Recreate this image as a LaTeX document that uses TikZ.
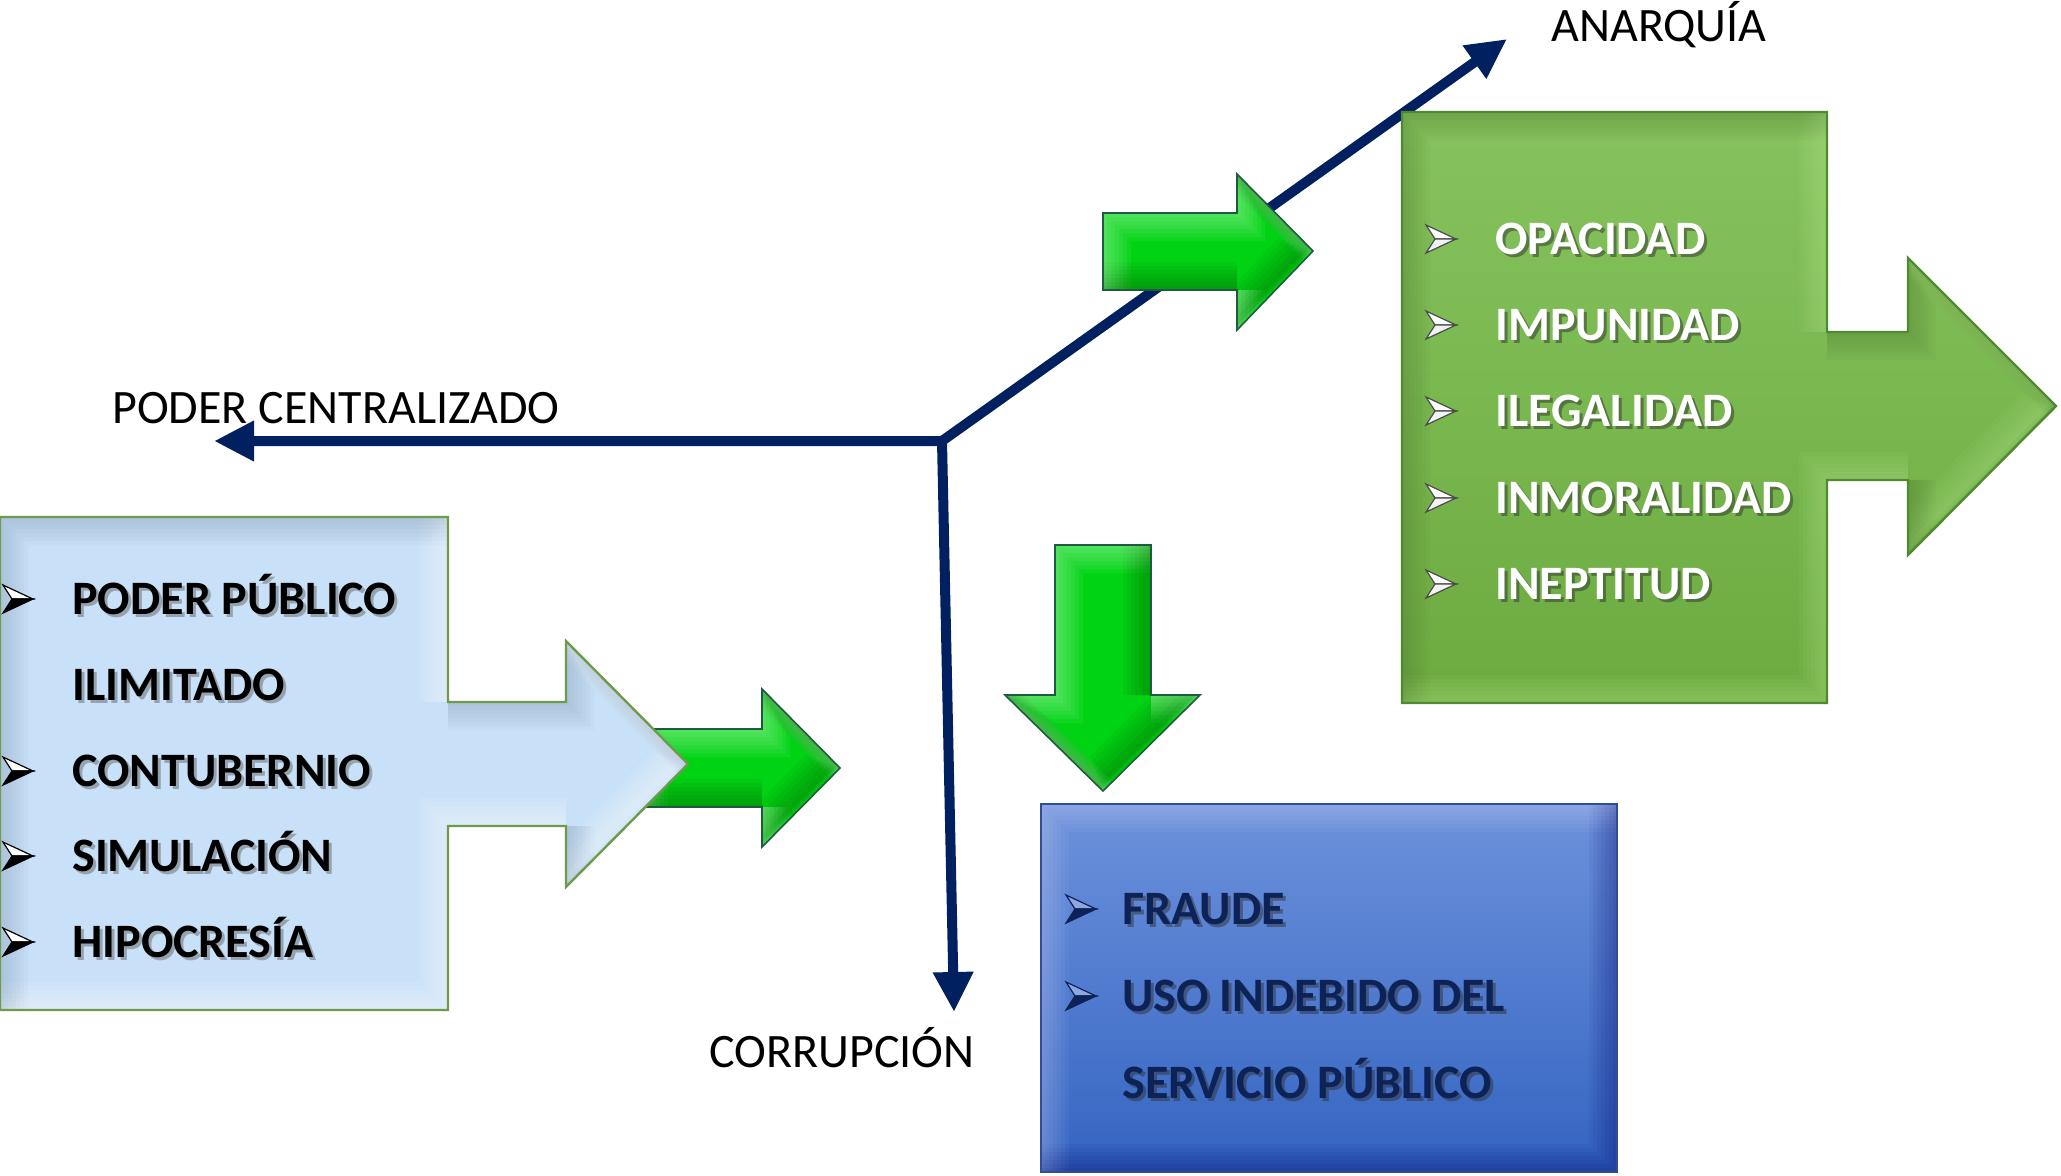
\documentclass[tikz,border=0pt]{standalone}
\usepackage{fontspec}
\setmainfont{Carlito}
\usetikzlibrary{arrows.meta,calc}
\definecolor{navyax}{HTML}{002060}
\definecolor{lblue}{HTML}{C8E1F8}
\definecolor{lbluedark}{HTML}{8FA6BE}
\definecolor{lblueedge}{HTML}{6E9A4C}
\definecolor{gbtop}{HTML}{86C35E}
\definecolor{gbbot}{HTML}{6CAB40}
\definecolor{gbedge}{HTML}{4E8A2E}
\definecolor{gbdark}{HTML}{4F7A33}
\definecolor{gblight}{HTML}{B8EC92}
\definecolor{brgreen}{HTML}{00D314}
\definecolor{brgedge}{HTML}{1E5A40}
\definecolor{dbtop}{HTML}{6D92DC}
\definecolor{dbbot}{HTML}{3464C1}
\definecolor{dbedge}{HTML}{2F4F94}
\definecolor{dbtext}{HTML}{0D2257}
\definecolor{dbbul}{HTML}{8DA8E0}

\tikzset{
 axis/.style={draw=navyax, line width=5pt, line join=miter},
 axtip/.style={-{Triangle[length=20pt,width=19pt]}},
 lab/.style={font=\fontsize{24}{28}\selectfont, inner sep=0pt, anchor=base west, text=black},
 itm/.style={font=\bfseries\fontsize{24}{28}\selectfont, inner sep=0pt, anchor=base west},
}

\def\pLB{(0,517) -- (448,517) -- (448,702) -- (566,702) -- (566,641) -- (688,764) -- (566,887) -- (566,826) -- (448,826) -- (448,1010) -- (0,1010) -- cycle}
\def\pGS{(640,729) -- (762,729) -- (762,689) -- (840,768) -- (762,847) -- (762,807) -- (640,807) -- cycle}
\def\pGT{(1103,213) -- (1237,213) -- (1237,174) -- (1313,251) -- (1237,330) -- (1237,290) -- (1103,290) -- cycle}
\def\pGB{(1402,112) -- (1827,112) -- (1827,332) -- (1908,332) -- (1908,258) -- (2056,406) -- (1908,555) -- (1908,480) -- (1827,480) -- (1827,703) -- (1402,703) -- cycle}
\def\pGD{(1055,545) -- (1151,545) -- (1151,695) -- (1200,695) -- (1103,791) -- (1005,695) -- (1055,695) -- cycle}
\def\pDB{(1041,804) -- (1617,804) -- (1617,1172) -- (1041,1172) -- cycle}

% #1 path, #2 colour near bottom/right edges, #3 colour near top/left edges, #4 opacity per layer
\newcommand{\mybevel}[4]{%
 \begin{scope}
 \clip #1;
 \foreach \w in {28,24,20,16,12,8,4} {
  \draw[#2, opacity=#4, line width=\w*0.5pt, shift={(-\w/2,-\w/2)}] #1;
  \draw[#3, opacity=#4, line width=\w*0.5pt, shift={(\w/2,\w/2)}] #1;
 }
 \end{scope}}

% #1 x, #2 y centre, #3 upper fill, #4 lower fill, #5 outline
\newcommand{\bulmark}[5]{%
 \filldraw[fill=#3, draw=#5, line width=0.6pt, line join=miter] (#1,#2-14) -- (#1+30,#2) -- (#1+9,#2) -- cycle;
 \filldraw[fill=#4, draw=#5, line width=0.6pt, line join=miter] (#1+9,#2) -- (#1+30,#2) -- (#1,#2+14) -- cycle;}

% #1 name, #2 x, #3 baseline y, #4 text, #5 colour, #6 shadow colour
\newcommand{\shtext}[6]{%
 \node[itm, text=#6, text opacity=0.5] (#1s) at (#2+3,#3+3) {#4};
 \node[itm, text=#5] (#1) at (#2,#3) {#4};}

\begin{document}
\begin{tikzpicture}[x=0.5pt,y=-0.5pt]
\useasboundingbox (0,0) rectangle (2061,1175);

% axes
\coordinate (J) at (942,441);
\coordinate (Lt) at (214,441);
\coordinate (Dt) at (1507,39);
\coordinate (Ct) at (954,1012);
\draw[axis, {Triangle[length=20pt,width=19pt]}-{Triangle[length=20pt,width=19pt]}] (Lt) -- (J) -- (Dt);
\draw[axis, axtip] (J) -- (Ct);

\node[lab] (anar) at (1551,41) {ANARQUÍA};
\node[lab] (pcen) at (112,423) {PODER CENTRALIZADO};
\node[lab] (corr) at (709,1067) {CORRUPCIÓN};

% small green arrow behind the light blue one
\fill[brgreen] \pGS;
\mybevel{\pGS}{green!35!black}{green!20!white}{0.07}
\draw[brgedge, line width=0.8pt, line join=miter] \pGS;

% light blue box with arrow
\fill[lblue] \pLB;
\mybevel{\pLB}{white}{lbluedark}{0.08}
\draw[lblueedge, line width=1.2pt, line join=miter] \pLB;

% top green arrow
\fill[brgreen] \pGT;
\mybevel{\pGT}{green!35!black}{green!20!white}{0.07}
\draw[brgedge, line width=0.8pt, line join=miter] \pGT;

% green box with arrow
\shade[top color=gbtop, bottom color=gbbot] \pGB;
\mybevel{\pGB}{gblight}{gbdark}{0.06}
\draw[gbedge, line width=1.2pt, line join=miter] \pGB;

% down green arrow
\fill[brgreen] \pGD;
\mybevel{\pGD}{green!35!black}{green!20!white}{0.07}
\draw[brgedge, line width=0.8pt, line join=miter] \pGD;

% dark blue box
\shade[top color=dbtop, bottom color=dbbot] \pDB;
\mybevel{\pDB}{blue!40!black}{blue!15!white}{0.05}
\draw[dbedge, line width=1.2pt] \pDB;

% light blue box items
\bulmark{3}{599}{white}{black}{black}
\shtext{lb1}{72}{614}{PODER PÚBLICO}{black}{black!60}
\shtext{lb2}{72}{700}{ILIMITADO}{black}{black!60}
\bulmark{3}{771}{white}{black}{black}
\shtext{lb3}{72}{786}{CONTUBERNIO}{black}{black!60}
\bulmark{3}{856}{white}{black}{black}
\shtext{lb4}{72}{871}{SIMULACIÓN}{black}{black!60}
\bulmark{3}{942}{white}{black}{black}
\shtext{lb5}{72}{957}{HIPOCRESÍA}{black}{black!60}

% green box items
\bulmark{1426}{239}{white}{white!90!gray}{black!70}
\shtext{gb1}{1495}{254}{OPACIDAD}{white}{black!80}
\bulmark{1426}{325}{white}{white!90!gray}{black!70}
\shtext{gb2}{1495}{340}{IMPUNIDAD}{white}{black!80}
\bulmark{1426}{411}{white}{white!90!gray}{black!70}
\shtext{gb3}{1495}{426}{ILEGALIDAD}{white}{black!80}
\bulmark{1426}{498}{white}{white!90!gray}{black!70}
\shtext{gb4}{1495}{513}{INMORALIDAD}{white}{black!80}
\bulmark{1426}{584}{white}{white!90!gray}{black!70}
\shtext{gb5}{1495}{599}{INEPTITUD}{white}{black!80}

% dark blue box items
\bulmark{1066}{909}{dbbul}{dbtext}{dbtext}
\shtext{db1}{1122}{924}{FRAUDE}{dbtext}{black!80}
\bulmark{1066}{996}{dbbul}{dbtext}{dbtext}
\shtext{db2}{1122}{1011}{USO INDEBIDO DEL}{dbtext}{black!80}
\shtext{db3}{1122}{1098}{SERVICIO PÚBLICO}{dbtext}{black!80}
\end{tikzpicture}
\end{document}
